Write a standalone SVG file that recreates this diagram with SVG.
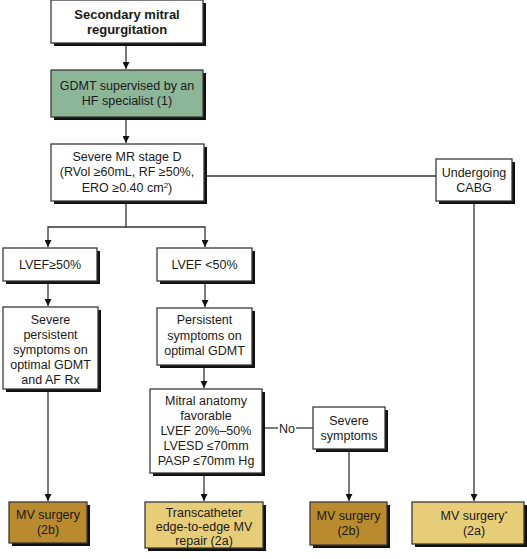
<svg xmlns="http://www.w3.org/2000/svg" width="527" height="559" viewBox="0 0 527 559">
<defs>
<style>
.sh{fill:#111}
.bx{stroke:#3a3a3a;stroke-width:1.3}
.w{fill:#fff}
.g{fill:#8db598}
.d{fill:#b98b2e}
.l{fill:#e7cd78}
text{font-family:"Liberation Sans",Arial,sans-serif;font-size:12.5px;fill:#1a1a1a;text-anchor:middle}
.b{font-weight:bold;font-size:13px}
.c{stroke:#333;stroke-width:1.3;fill:none}
</style>
<marker id="ah" viewBox="0 0 10 10" refX="10" refY="5" markerWidth="7" markerHeight="7" markerUnits="userSpaceOnUse" orient="auto">
<path d="M0,0 L10,5 L0,10 z" fill="#111"/>
</marker>
</defs>
<g id="connectors">
<line class="c" x1="126" y1="46" x2="126" y2="69" marker-end="url(#ah)"/>
<line class="c" x1="126" y1="120" x2="126" y2="143" marker-end="url(#ah)"/>
<polyline class="c" points="126,204 126,227 48,227 48,247" marker-end="url(#ah)"/>
<polyline class="c" points="126,227 205,227 205,247" marker-end="url(#ah)"/>
<line class="c" x1="204" y1="176" x2="436" y2="176"/>
<line class="c" x1="474" y1="204" x2="474" y2="501" marker-end="url(#ah)"/>
<line class="c" x1="48" y1="284" x2="48" y2="306" marker-end="url(#ah)"/>
<line class="c" x1="205" y1="284" x2="205" y2="307" marker-end="url(#ah)"/>
<line class="c" x1="204" y1="368" x2="204" y2="388" marker-end="url(#ah)"/>
<line class="c" x1="48" y1="392" x2="48" y2="501" marker-end="url(#ah)"/>
<line class="c" x1="204" y1="476" x2="204" y2="501" marker-end="url(#ah)"/>
<line class="c" x1="262" y1="428" x2="278" y2="428"/>
<line class="c" x1="296" y1="428" x2="313" y2="428"/>
<line class="c" x1="349" y1="452" x2="349" y2="501" marker-end="url(#ah)"/>
<text x="287" y="432.5">No</text>
</g>
<g id="n-secondary">
<rect class="sh" x="54" y="3" width="152" height="43"/>
<rect class="bx w" x="51" y="0" width="152" height="43"/>
<text class="b" x="127" y="18.5">Secondary mitral</text>
<text class="b" x="127" y="33.5">regurgitation</text>
</g>
<g id="n-gdmt">
<rect class="sh" x="54" y="73" width="152" height="47"/>
<rect class="bx g" x="51" y="70" width="152" height="47"/>
<text x="127" y="90">GDMT supervised by an</text>
<text x="127" y="105">HF specialist (1)</text>
</g>
<g id="n-severe-mr">
<rect class="sh" x="54" y="147" width="153" height="57"/>
<rect class="bx w" x="51" y="144" width="153" height="57"/>
<text x="127" y="160.5">Severe MR stage D</text>
<text x="127" y="176">(RVol ≥60mL, RF ≥50%,</text>
<text x="127" y="191.5">ERO ≥0.40 cm<tspan font-size="8" dy="-4">2</tspan><tspan dy="4">)</tspan></text>
</g>
<g id="n-cabg">
<rect class="sh" x="439" y="162" width="76" height="42"/>
<rect class="bx w" x="436" y="159" width="76" height="42"/>
<text x="474" y="177">Undergoing</text>
<text x="474" y="192">CABG</text>
</g>
<g id="n-lvef-ge50">
<rect class="sh" x="6" y="251" width="94" height="33"/>
<rect class="bx w" x="3" y="248" width="94" height="33"/>
<text x="50" y="269">LVEF≥50%</text>
</g>
<g id="n-lvef-lt50">
<rect class="sh" x="160" y="251" width="95" height="33"/>
<rect class="bx w" x="157" y="248" width="95" height="33"/>
<text x="204.5" y="269">LVEF &lt;50%</text>
</g>
<g id="n-severe-persistent">
<rect class="sh" x="6" y="310" width="95" height="82"/>
<rect class="bx w" x="3" y="307" width="95" height="82"/>
<text x="50.5" y="324">Severe</text>
<text x="50.5" y="339">persistent</text>
<text x="50.5" y="354">symptoms on</text>
<text x="50.5" y="369">optimal GDMT</text>
<text x="50.5" y="384">and AF Rx</text>
</g>
<g id="n-persistent">
<rect class="sh" x="160" y="311" width="95" height="57"/>
<rect class="bx w" x="157" y="308" width="95" height="57"/>
<text x="204.5" y="324">Persistent</text>
<text x="204.5" y="339.5">symptoms on</text>
<text x="204.5" y="355">optimal GDMT</text>
</g>
<g id="n-mitral">
<rect class="sh" x="153" y="392" width="112" height="84"/>
<rect class="bx w" x="150" y="389" width="112" height="84"/>
<text x="206" y="405">Mitral anatomy</text>
<text x="206" y="420">favorable</text>
<text x="206" y="435">LVEF 20%–50%</text>
<text x="206" y="450">LVESD ≤70mm</text>
<text x="206" y="465">PASP ≤70mm Hg</text>
</g>
<g id="n-severe-symptoms">
<rect class="sh" x="316" y="410" width="72" height="42"/>
<rect class="bx w" x="313" y="407" width="72" height="42"/>
<text x="349" y="425">Severe</text>
<text x="349" y="440">symptoms</text>
</g>
<g id="n-mv-left">
<rect class="sh" x="12" y="505" width="78" height="41"/>
<rect class="bx d" x="9" y="502" width="78" height="41"/>
<text x="48" y="519">MV surgery</text>
<text x="48" y="534">(2b)</text>
</g>
<g id="n-teer">
<rect class="sh" x="148" y="505" width="118" height="46"/>
<rect class="bx l" x="145" y="502" width="118" height="46"/>
<text x="204" y="516.5">Transcatheter</text>
<text x="204" y="530.5">edge-to-edge MV</text>
<text x="204" y="544.5">repair (2a)</text>
</g>
<g id="n-mv-mid">
<rect class="sh" x="313" y="505" width="77" height="43"/>
<rect class="bx d" x="310" y="502" width="77" height="43"/>
<text x="348.5" y="520">MV surgery</text>
<text x="348.5" y="535">(2b)</text>
</g>
<g id="n-mv-right">
<rect class="sh" x="415" y="505" width="112" height="42"/>
<rect class="bx l" x="412" y="502" width="112" height="42"/>
<text x="474" y="520">MV surgery<tspan font-size="8" dy="-4">*</tspan></text>
<text x="474" y="535">(2a)</text>
</g>
</svg>
